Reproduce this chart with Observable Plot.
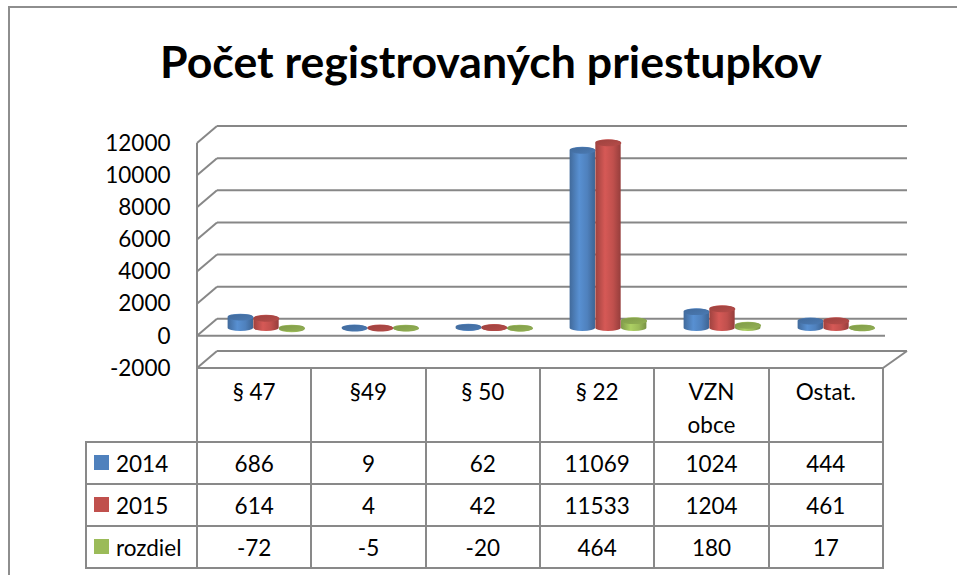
<!DOCTYPE html>
<html lang="sk">
<head>
<meta charset="utf-8">
<script src="https://cdn.jsdelivr.net/npm/d3@7"></script>
<script src="https://cdn.jsdelivr.net/npm/@observablehq/plot@0.6"></script>
<style>
html,body{margin:0;padding:0;background:#fff;}
body{position:relative;width:957px;height:575px;overflow:hidden;font-family:Lato,"Open Sans",sans-serif;color:#000;}
#chart{position:absolute;left:0;top:0;}
#frame{position:absolute;left:8px;top:6px;width:1200px;height:1200px;border-left:2px solid #8e8e8e;border-top:2px solid #8e8e8e;box-sizing:border-box;pointer-events:none;}
#title{position:absolute;left:0;top:35px;width:982px;text-align:center;font-weight:700;font-size:42px;line-height:52px;white-space:nowrap;}
#title span{display:inline-block;}
table{position:absolute;left:85px;top:367px;border-collapse:collapse;table-layout:fixed;font-size:22.5px;}
td{border:2px solid #898989;padding:0;text-align:center;vertical-align:middle;height:40px;white-space:pre-line;}
td.corner{border-top:none;border-left:none;}
td.hdr{vertical-align:top;height:70px;line-height:33px;padding-top:6px;box-sizing:border-box;}
td.leg{text-align:left;padding-left:7px;}
td.leg .sw{display:inline-block;width:15px;height:15px;margin-right:7px;vertical-align:2px;}
</style>
</head>
<body>
<div id="root"></div>
<script>
// ---- data ----
const categories = ["§ 47", "§49", "§ 50", "§ 22", "VZN obce", "Ostat."];
const headerLabels = ["§ 47", "§49", "§ 50", "§ 22", "VZN\nobce", "Ostat."];
const seriesNames = ["2014", "2015", "rozdiel"];
const values2014 = [686, 9, 62, 11069, 1024, 444];
const values2015 = [614, 4, 42, 11533, 1204, 461];
const valuesDiff = [-72, -5, -20, 464, 180, 17];
const yTicks = [-2000, 0, 2000, 4000, 6000, 8000, 10000, 12000];
const seriesColors = ["#4f81bd", "#c0504d", "#9bbb59"];
const seriesValues = [values2014, values2015, valuesDiff];
const titleText = "Počet registrovaných priestupkov";

const rows = seriesNames.flatMap((s, k) =>
  categories.map((c, i) => ({series: s, k, category: c, value: seriesValues[k][i]})));

// ---- layout constants ----
const W = 957, H = 575;
const mLeft = 197, mRight = 74, mTop = 143, mBottom = 207;
const depthDx = 20, depthDxRight = 24, depthDy = -17;   // back wall offset
const barDx = 11, barDy = -8;                              // bars sit mid-depth
const barW = 25.7, capRy = 3.2;
const bandW = (W - mLeft - mRight) / categories.length;
const side = (bandW - 3 * barW) / 2;

function ellipseSymbol(rx, ry) {
  const k = 0.5523;
  return {draw(ctx) {
    ctx.moveTo(rx, 0);
    ctx.bezierCurveTo(rx, ry * k, rx * k, ry, 0, ry);
    ctx.bezierCurveTo(-rx * k, ry, -rx, ry * k, -rx, 0);
    ctx.bezierCurveTo(-rx, -ry * k, -rx * k, -ry, 0, -ry);
    ctx.bezierCurveTo(rx * k, -ry, rx, -ry * k, rx, 0);
    ctx.closePath();
  }};
}

function gradients() {
  const d = d3.create("svg:defs");
  seriesColors.forEach((c, k) => {
    const base = d3.color(c);
    const g = d.append("linearGradient").attr("id", "body" + k)
      .attr("x1", 0).attr("x2", 1).attr("y1", 0).attr("y2", 0);
    g.append("stop").attr("offset", "0%").attr("stop-color", base.darker(0.55));
    g.append("stop").attr("offset", "38%").attr("stop-color", base.brighter(0.3));
    g.append("stop").attr("offset", "70%").attr("stop-color", base.copy());
    g.append("stop").attr("offset", "100%").attr("stop-color", base.darker(0.7));
    const h = d.append("linearGradient").attr("id", "cap" + k)
      .attr("x1", 0).attr("x2", 1).attr("y1", 0).attr("y2", 1);
    h.append("stop").attr("offset", "0%").attr("stop-color", base.darker(0.55));
    h.append("stop").attr("offset", "100%").attr("stop-color", base.darker(0.15));
  });
  return d.node();
}

function walls(index, {y}, values, dims) {
  const g = d3.create("svg:g").attr("fill", "none").attr("stroke", "#878787").attr("stroke-width", 2);
  const x0 = dims.marginLeft, x1 = dims.width - dims.marginRight;
  for (const t of yTicks) {
    const yy = y(t);
    g.append("line").attr("x1", x0 + depthDx).attr("x2", x1 + depthDxRight)
      .attr("y1", yy + depthDy).attr("y2", yy + depthDy);
    g.append("line").attr("x1", x0).attr("x2", x0 + depthDx)
      .attr("y1", yy).attr("y2", yy + depthDy);
  }
  const yMin = y(yTicks[0]), yMax = y(yTicks[yTicks.length - 1]), y0 = y(0);
  g.append("line").attr("x1", x0).attr("x2", x0).attr("y1", yMax).attr("y2", yMin);
  g.append("line").attr("x1", x0).attr("x2", x1 + 2).attr("y1", y0).attr("y2", y0);
  g.append("line").attr("x1", x0).attr("x2", x1).attr("y1", yMin).attr("y2", yMin);
  g.append("line").attr("x1", x1).attr("x2", x1 + depthDxRight).attr("y1", yMin).attr("y2", yMin + depthDy);
  return g.node();
}

const barMarks = seriesNames.flatMap((s, k) => {
  const data = rows.filter(d => d.k === k);
  const insetLeft = side + k * barW;
  const insetRight = bandW - insetLeft - barW;
  return [
    Plot.barY(data, {
      x: "category", y: "value", fill: `url(#body${k})`,
      insetLeft, insetRight, insetTop: -capRy, insetBottom: -capRy,
      rx: barW / 2, ry: capRy, dx: barDx, dy: barDy
    }),
    Plot.dot(data, {
      x: "category", y: d => Math.max(0, d.value),
      symbol: ellipseSymbol(barW / 2, capRy), r: 3,
      fill: `url(#cap${k})`, stroke: "none",
      dx: barDx + (insetLeft + barW / 2 - bandW / 2), dy: barDy
    })
  ];
});

const chart = Plot.plot({
  width: W, height: H,
  marginLeft: mLeft, marginRight: mRight, marginTop: mTop, marginBottom: mBottom,
  style: {background: "transparent", fontFamily: "Lato, 'Open Sans', sans-serif", fontSize: "22.5px", color: "#000"},
  x: {type: "band", domain: categories, padding: 0, axis: null},
  y: {domain: [yTicks[0], yTicks[yTicks.length - 1]]},
  marks: [
    gradients,
    walls,
    Plot.axisY(yTicks, {tickSize: 0, tickPadding: 27, tickFormat: d => String(d), fontSize: 22.5, label: null}),
    ...barMarks
  ]
});
chart.id = "chart";
const root = document.getElementById("root");
root.appendChild(chart);

const frame = document.createElement("div");
frame.id = "frame";
root.appendChild(frame);

const title = document.createElement("div");
title.id = "title";
const span = document.createElement("span");
span.textContent = titleText;
title.appendChild(span);
root.appendChild(title);
const targetW = 662;
const w0 = span.getBoundingClientRect().width;
if (w0 > 0) title.style.fontSize = (42 * targetW / w0) + "px";

// data table
const tbl = document.createElement("table");
const cg = document.createElement("colgroup");
[111, ...categories.map(() => bandW)].forEach(w => {
  const col = document.createElement("col"); col.style.width = w + "px"; cg.appendChild(col);
});
tbl.appendChild(cg);
let tr = tbl.insertRow();
tr.insertCell().className = "corner";
headerLabels.forEach(l => { const td = tr.insertCell(); td.className = "hdr"; td.textContent = l; });
seriesNames.forEach((s, k) => {
  const r = tbl.insertRow();
  const lc = r.insertCell();
  lc.className = "leg";
  const sw = document.createElement("span");
  sw.className = "sw"; sw.style.background = seriesColors[k];
  lc.appendChild(sw);
  lc.appendChild(document.createTextNode(s));
  seriesValues[k].forEach(v => { const td = r.insertCell(); td.textContent = String(v); });
});
root.appendChild(tbl);
</script>
</body>
</html>
